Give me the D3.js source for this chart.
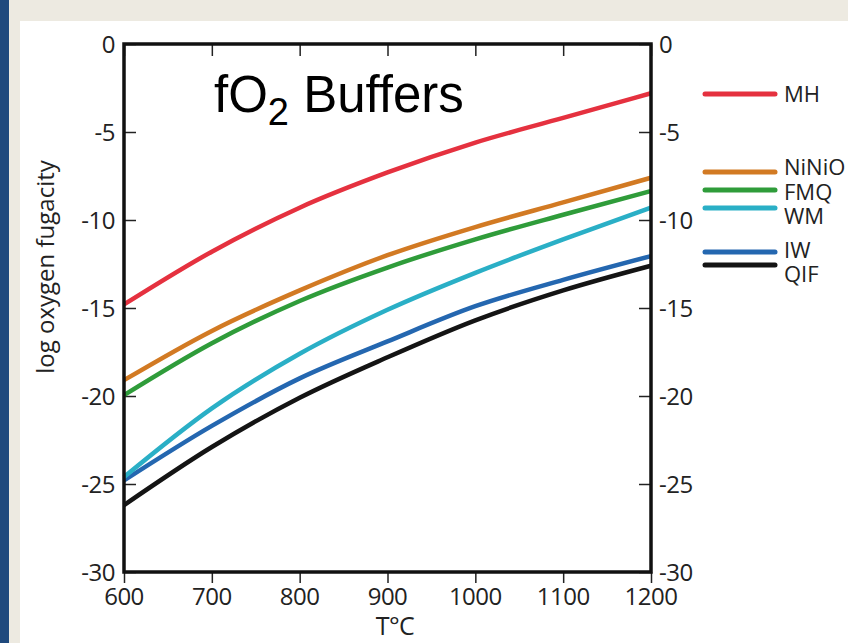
<!DOCTYPE html>
<html>
<head>
<meta charset="utf-8">
<script src="https://cdn.jsdelivr.net/npm/d3@7"></script>
<style>
	html, body { margin: 0; padding: 0; background: #fff; }
	svg { display: block; }
	.tick-label { font-family: "Open Sans", sans-serif; font-size: 24px; fill: #222; letter-spacing: -0.5px; }
	.legend-label { font-family: "Open Sans", sans-serif; font-size: 22px; fill: #222; }
</style>
</head>
<body>
<div id="chart"></div>
<script>
// temperatures along the x axis
var temps = [600, 700, 800, 900, 1000, 1100, 1200];

// log fO2 for each buffer
var mh    = [-14.8, -11.8, -9.3, -7.3, -5.6, -4.2, -2.8];
var ninio = [-19.1, -16.3, -14.0, -12.0, -10.4, -9.0, -7.6];
var fmq   = [-19.95, -17.0, -14.6, -12.7, -11.1, -9.7, -8.35];
var wm    = [-24.6, -20.7, -17.6, -15.1, -13.0, -11.1, -9.3];
var iw    = [-24.8, -21.7, -19.0, -16.9, -14.9, -13.4, -12.05];
var qif   = [-26.2, -22.9, -20.1, -17.8, -15.7, -14.0, -12.6];

var seriesNames  = ["MH", "NiNiO", "FMQ", "WM", "IW", "QIF"];
var seriesColors = ["#e5313f", "#d27a23", "#2f9c3a", "#2aafc6", "#2467b0", "#141414"];

var xTicks = [600, 700, 800, 900, 1000, 1100, 1200];
var yTicks = [0, -5, -10, -15, -20, -25, -30];

(function() {
	var width = 848, height = 643;
	var margin = { left: 124, right: 197, top: 44, bottom: 71 };

	var svg = d3.select("#chart").append("svg")
		.attr("width", width)
		.attr("height", height);

	// page frame: blue strip, beige band
	svg.append("rect").attr("x", 0).attr("y", 0).attr("width", width).attr("height", height).attr("fill", "#edeae1");
	svg.append("rect").attr("x", 0).attr("y", 0).attr("width", 9).attr("height", height).attr("fill", "#1f497d");
	svg.append("rect").attr("x", 20).attr("y", 21).attr("width", width - 20).attr("height", height - 21).attr("fill", "#fff");

	var x = d3.scaleLinear().domain([600, 1200]).range([margin.left, width - margin.right]);
	var y = d3.scaleLinear().domain([-30, 0]).range([height - margin.bottom, margin.top]);

	var x0 = x.range()[0], x1 = x.range()[1], y0 = y.range()[1], y1 = y.range()[0];

	// axes (ticks only, frame drawn separately)
	var left = svg.append("g").attr("transform", "translate(" + x0 + ",0)")
		.call(d3.axisRight(y).tickValues(yTicks).tickSize(12).tickFormat(""));
	var right = svg.append("g").attr("transform", "translate(" + x1 + ",0)")
		.call(d3.axisLeft(y).tickValues(yTicks).tickSize(12).tickFormat(""));
	var top = svg.append("g").attr("transform", "translate(0," + y0 + ")")
		.call(d3.axisBottom(x).tickValues(xTicks).tickSize(12).tickFormat(""));
	var bottom = svg.append("g").attr("transform", "translate(0," + y1 + ")")
		.call(d3.axisBottom(x).tickValues(xTicks).tickSize(11).tickFormat(""));

	[left, right, top, bottom].forEach(function(g) {
		g.select(".domain").remove();
		g.selectAll(".tick line").attr("stroke", "#222").attr("stroke-width", 1.5);
	});

	// tick labels
	svg.selectAll(".ylab-left").data(yTicks).enter().append("text")
		.attr("class", "tick-label")
		.attr("x", x0 - 9)
		.attr("y", function(d) { return y(d); })
		.attr("dy", "0.36em")
		.attr("text-anchor", "end")
		.text(function(d) { return d; });

	svg.selectAll(".ylab-right").data(yTicks).enter().append("text")
		.attr("class", "tick-label")
		.attr("x", x1 + 8)
		.attr("y", function(d) { return y(d); })
		.attr("dy", "0.36em")
		.attr("text-anchor", "start")
		.text(function(d) { return d; });

	svg.selectAll(".xlab").data(xTicks).enter().append("text")
		.attr("class", "tick-label")
		.attr("x", function(d) { return x(d); })
		.attr("y", y1 + 33)
		.attr("text-anchor", "middle")
		.text(function(d) { return d; });

	// axis titles
	svg.append("text")
		.attr("class", "tick-label")
		.attr("transform", "translate(54,267) rotate(-90)")
		.attr("text-anchor", "middle")
		.style("letter-spacing", "0px")
		.text("log oxygen fugacity");

	svg.append("text")
		.attr("class", "tick-label")
		.attr("x", 395)
		.attr("y", 635)
		.attr("text-anchor", "middle")
		.style("font-size", "25px")
		.text("T°C");

	// chart title
	var title = svg.append("text")
		.attr("x", 214)
		.attr("y", 112)
		.style("font-family", "'Liberation Sans', Arial, sans-serif")
		.style("font-size", "51px")
		.attr("fill", "#000");
	title.append("tspan").text("fO");
	title.append("tspan").attr("dy", 13).style("font-size", "38px").text("2");
	title.append("tspan").attr("dy", -13).text(" Buffers");

	// buffer curves
	var line = d3.line()
		.x(function(d, i) { return x(temps[i]); })
		.y(function(d) { return y(d); })
		.curve(d3.curveMonotoneX);

	var allSeries = [mh, ninio, fmq, wm, iw, qif];
	var drawOrder = [5, 4, 3, 2, 1, 0];

	svg.append("g").selectAll("path")
		.data(drawOrder)
		.enter().append("path")
		.attr("d", function(k) { return line(allSeries[k]); })
		.attr("fill", "none")
		.attr("stroke", function(k) { return seriesColors[k]; })
		.attr("stroke-width", 4.5)
		.attr("stroke-linejoin", "round");

	// frame
	svg.append("rect")
		.attr("x", x0).attr("y", y0)
		.attr("width", x1 - x0).attr("height", y1 - y0)
		.attr("fill", "none")
		.attr("stroke", "#111")
		.attr("stroke-width", 3.5);

	// legend
	var legendLineY = [94, 172, 190, 208, 252, 265];
	var legendTextY = [94, 167, 192, 216, 250, 274];

	var legend = svg.append("g");
	legend.selectAll("line").data(seriesNames).enter().append("line")
		.attr("x1", 705).attr("x2", 775)
		.attr("y1", function(d, i) { return legendLineY[i]; })
		.attr("y2", function(d, i) { return legendLineY[i]; })
		.attr("stroke", function(d, i) { return seriesColors[i]; })
		.attr("stroke-width", 5)
		.attr("stroke-linecap", "round");

	legend.selectAll("text").data(seriesNames).enter().append("text")
		.attr("class", "legend-label")
		.attr("x", 784)
		.attr("y", function(d, i) { return legendTextY[i]; })
		.attr("dy", "0.36em")
		.text(function(d) { return d; });
})();
</script>
</body>
</html>
